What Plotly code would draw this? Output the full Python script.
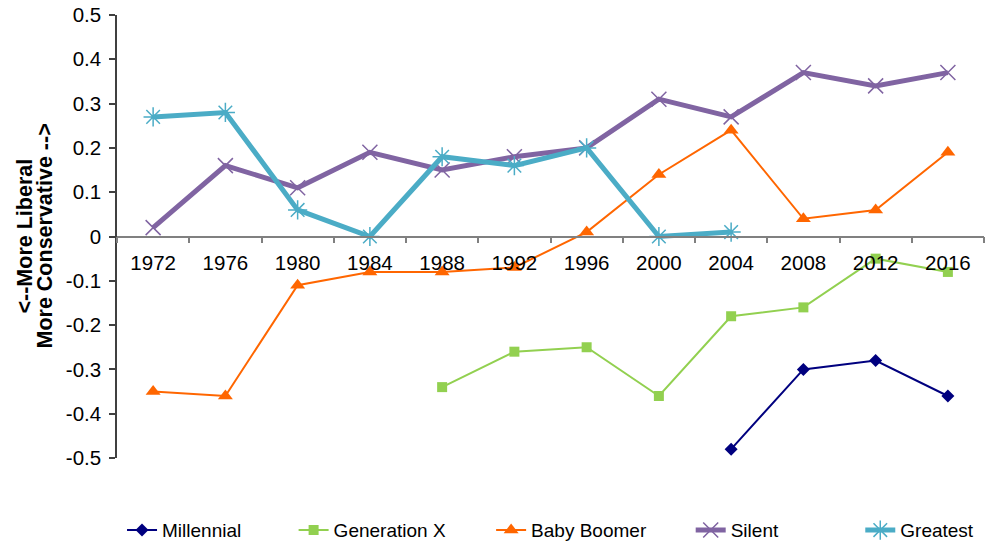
import plotly.graph_objects as go

years = ["1972", "1976", "1980", "1984", "1988", "1992", "1996", "2000", "2004", "2008", "2012", "2016"]

millennial = [None, None, None, None, None, None, None, None, -0.48, -0.30, -0.28, -0.36]
generation_x = [None, None, None, None, -0.34, -0.26, -0.25, -0.36, -0.18, -0.16, -0.05, -0.08]
baby_boomer = [-0.35, -0.36, -0.11, -0.08, -0.08, -0.07, 0.01, 0.14, 0.24, 0.04, 0.06, 0.19]
silent = [0.02, 0.16, 0.11, 0.19, 0.15, 0.18, 0.20, 0.31, 0.27, 0.37, 0.34, 0.37]
greatest = [0.27, 0.28, 0.06, 0.00, 0.18, 0.16, 0.20, 0.00, 0.01, None, None, None]

y_ticks = [0.5, 0.4, 0.3, 0.2, 0.1, 0, -0.1, -0.2, -0.3, -0.4, -0.5]
y_tick_text = ["0.5", "0.4", "0.3", "0.2", "0.1", "0", "-0.1", "-0.2", "-0.3", "-0.4", "-0.5"]

FONT = "Liberation Sans, Arial, sans-serif"

# name, values, colour, line width, marker symbol, marker size, marker outline, legend x
series = [
    ("Millennial", millennial, "#00007F", 2, "diamond", 10, 0, 0.0058),
    ("Generation X", generation_x, "#92D050", 2, "square", 10, 0, 0.2037),
    ("Baby Boomer", baby_boomer, "#FF6600", 2, "triangle-up", 13, 0, 0.4315),
    ("Silent", silent, "#8064A2", 5, "x-thin-open", 15, 1.5, 0.6617),
    ("Greatest", greatest, "#4BACC6", 5, "asterisk-open", 16, 1.5, 0.8573),
]

fig = go.Figure()
legend_layouts = {}
for i, (name, values, color, width, symbol, size, mlw, lx) in enumerate(series):
    legend_id = "legend" if i == 0 else f"legend{i + 1}"
    fig.add_trace(go.Scatter(
        x=years, y=values, name=name, mode="lines+markers",
        line=dict(color=color, width=width),
        marker=dict(symbol=symbol, size=size, color=color,
                    line=dict(color=color, width=mlw)),
        connectgaps=False, legend=legend_id,
    ))
    legend_layouts[legend_id] = dict(
        orientation="h", x=lx, xanchor="left", y=-0.163, yanchor="middle",
        font=dict(size=19), bgcolor="rgba(0,0,0,0)",
    )

fig.update_layout(
    width=989, height=543,
    margin=dict(l=117, r=5, t=15, b=85, autoexpand=False),
    paper_bgcolor="white", plot_bgcolor="white",
    font=dict(family=FONT, size=20, color="black"),
    showlegend=True,
    xaxis=dict(
        type="category", range=[-0.5, 11.5],
        anchor="free", position=0.5,
        showline=True, linecolor="#808080", linewidth=1.5,
        ticks="outside", tickson="boundaries", ticklen=6, tickcolor="#808080", tickwidth=1.5,
        showgrid=False, zeroline=False,
        tickfont=dict(size=20.5), ticklabelstandoff=8,
    ),
    yaxis=dict(
        range=[-0.5, 0.5],
        tickvals=y_ticks, ticktext=y_tick_text,
        showline=True, linecolor="#404040", linewidth=1.5,
        ticks="outside", ticklen=6, tickcolor="#404040", tickwidth=1.5,
        showgrid=False, zeroline=False,
        tickfont=dict(size=20.5), ticklabelstandoff=4,
    ),
    annotations=[
        dict(text="<b>&lt;--More Liberal</b>", xref="paper", yref="paper", x=0, y=0.5,
             xanchor="center", yanchor="middle",
             xshift=-93, textangle=-90, showarrow=False, font=dict(size=21.5)),
        dict(text="<b>More Conservative --&gt;</b>", xref="paper", yref="paper", x=0, y=0.5,
             xanchor="center", yanchor="middle",
             xshift=-73, textangle=-90, showarrow=False, font=dict(size=21.5)),
    ],
    **legend_layouts,
)

fig.write_html("out.html")
